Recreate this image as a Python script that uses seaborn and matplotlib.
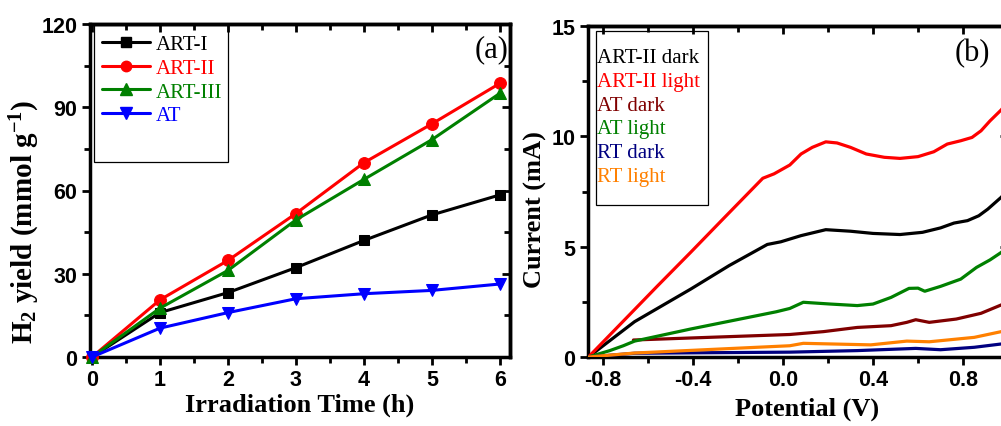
import numpy as np
import pandas as pd
import matplotlib
matplotlib.use("Agg")
import matplotlib.pyplot as plt
import seaborn as sns
from matplotlib.ticker import MultipleLocator
from matplotlib.patches import Rectangle
from matplotlib.lines import Line2D

# ---- panel (a): H2 yield vs irradiation time ----
time_h = [0, 1, 2, 3, 4, 5, 6]
art1 = [0, 16.0, 23.2, 32.2, 42.0, 51.2, 58.4]
art2 = [0, 20.6, 34.8, 51.7, 70.0, 84.0, 98.6]
art3 = [0, 17.6, 31.2, 49.4, 64.0, 78.3, 95.0]
at_yield = [0, 10.4, 16.0, 21.0, 22.8, 24.0, 26.3]

# ---- panel (b): current vs potential ----
art2_light_v = [-0.865, -0.66, -0.56, -0.41, -0.27, -0.09, -0.04, 0.03, 0.08, 0.13, 0.19, 0.24,
                0.30, 0.37, 0.45, 0.52, 0.60, 0.67, 0.73, 0.79, 0.84, 0.88, 0.92, 0.97, 1.0]
art2_light_i = [0, 2.15, 3.2, 4.75, 6.22, 8.1, 8.3, 8.7, 9.2, 9.5, 9.75, 9.7,
                9.5, 9.2, 9.05, 9.0, 9.08, 9.3, 9.65, 9.8, 9.95, 10.25, 10.7, 11.2, 11.6]
art2_dark_v = [-0.865, -0.66, -0.41, -0.24, -0.07, -0.01, 0.08, 0.19, 0.30, 0.40, 0.52, 0.62,
               0.70, 0.76, 0.82, 0.87, 0.91, 0.97, 1.0]
art2_dark_i = [0, 1.6, 3.08, 4.14, 5.1, 5.22, 5.5, 5.77, 5.7, 5.6, 5.55, 5.65,
               5.85, 6.07, 6.18, 6.4, 6.7, 7.24, 7.6]
at_light_v = [-0.865, -0.77, -0.71, -0.66, -0.41, -0.03, 0.03, 0.09, 0.21, 0.33, 0.40, 0.48,
              0.56, 0.60, 0.63, 0.70, 0.79, 0.86, 0.92, 0.97, 1.0]
at_light_i = [0, 0.29, 0.51, 0.72, 1.27, 2.05, 2.2, 2.48, 2.4, 2.33, 2.4, 2.7,
              3.11, 3.12, 2.98, 3.2, 3.53, 4.06, 4.4, 4.74, 5.0]
at_dark_v = [-0.665, 0.03, 0.18, 0.33, 0.48, 0.55, 0.59, 0.65, 0.77, 0.88, 0.97, 1.0]
at_dark_i = [0.77, 1.02, 1.15, 1.34, 1.42, 1.57, 1.69, 1.57, 1.72, 1.98, 2.36, 2.5]
rt_dark_v = [-0.865, -0.66, 0.03, 0.33, 0.59, 0.70, 0.85, 0.97, 1.0]
rt_dark_i = [0, 0.17, 0.22, 0.29, 0.39, 0.33, 0.44, 0.59, 0.63]
rt_light_v = [-0.865, -0.66, 0.03, 0.09, 0.39, 0.55, 0.65, 0.85, 0.97, 1.0]
rt_light_i = [0, 0.18, 0.51, 0.62, 0.55, 0.72, 0.69, 0.89, 1.15, 1.22]

sns.set_style("ticks")
plt.rcParams["font.family"] = ["Liberation Serif", "DejaVu Serif"]
plt.rcParams["mathtext.fontset"] = "custom"
plt.rcParams["mathtext.rm"] = "Liberation Serif"
plt.rcParams["mathtext.bf"] = "Liberation Serif:bold"
plt.rcParams["mathtext.it"] = "Liberation Serif:italic"
plt.rcParams["text.color"] = "black"
plt.rcParams["axes.labelcolor"] = "black"
plt.rcParams["xtick.color"] = "black"
plt.rcParams["ytick.color"] = "black"
plt.rcParams["axes.edgecolor"] = "black"

fig = plt.figure(figsize=(10.01, 4.27), dpi=100)
ax1 = fig.add_axes([90 / 1001, 69 / 427, 420 / 1001, 333 / 427])
ax2 = fig.add_axes([588 / 1001, 69 / 427, 420 / 1001, 331 / 427])

tick_font = dict(family="Liberation Sans", weight="bold", size=15.5)
label_font = dict(family="Liberation Serif", weight="bold", size=19)


def style_axes(ax, xmaj, xmin, ymaj, ymin):
    for s in ax.spines.values():
        s.set_linewidth(2.5)
        s.set_color("black")
    ax.xaxis.set_major_locator(MultipleLocator(xmaj))
    ax.xaxis.set_minor_locator(MultipleLocator(xmin))
    ax.yaxis.set_major_locator(MultipleLocator(ymaj))
    ax.yaxis.set_minor_locator(MultipleLocator(ymin))
    ax.tick_params(which="major", direction="out", length=6, width=2, pad=3, colors="black")
    ax.tick_params(which="minor", direction="out", length=4, width=2, colors="black")
    for lab in ax.get_xticklabels() + ax.get_yticklabels():
        lab.set_fontproperties(tick_font)
    top = ax.secondary_xaxis("top")
    right = ax.secondary_yaxis("right")
    for sec, axis in ((top, top.xaxis), (right, right.yaxis)):
        axis.set_major_locator(MultipleLocator(xmaj if sec is top else ymaj))
        axis.set_minor_locator(MultipleLocator(xmin if sec is top else ymin))
        sec.tick_params(which="major", direction="in", length=6, width=2,
                        labeltop=False, labelright=False, colors="black")
        sec.tick_params(which="minor", direction="in", length=4, width=2, colors="black")
        for s in sec.spines.values():
            s.set_linewidth(2.5)
            s.set_color("black")


# ---- panel (a) ----
series_a = [
    ("ART-I", art1, "black", "s", 7.5),
    ("ART-II", art2, "#ff0000", "o", 8.5),
    ("ART-III", art3, "#008000", "^", 9),
    ("AT", at_yield, "#0000ff", "v", 9),
]
handles_a = []
for name, vals, col, mk, ms in series_a:
    sns.lineplot(x=time_h, y=vals, ax=ax1, color=col, marker=mk, markersize=ms,
                 markeredgecolor=col, linewidth=2.2, clip_on=False, zorder=3)
    handles_a.append(Line2D([], [], color=col, marker=mk, markersize=ms - 1,
                            markeredgecolor=col, linewidth=2.2, label=name))

ax1.set_xlim(-0.03, 6.15)
ax1.set_ylim(0, 120)
style_axes(ax1, 1, 0.5, 30, 15)
ax1.set_xlabel("Irradiation Time (h)", **label_font)
ax1.xaxis.set_label_coords(0.5, -0.108)
ax1.set_ylabel(r"$\mathbf{H_2}$ yield (mmol g$^{\mathbf{-1}}$)",
               family="Liberation Serif", weight="bold", size=21)
ax1.yaxis.set_label_coords(-0.115, 0.41)
ax1.add_patch(Rectangle((0.0095, 0.586), 0.32, 0.41, transform=ax1.transAxes,
                        fill=False, edgecolor="black", linewidth=0.9, zorder=4))
leg1 = ax1.legend(handles=handles_a, loc="upper left", bbox_to_anchor=(0.029, 0.968),
                  frameon=False, borderpad=0, borderaxespad=0, handlelength=2.3,
                  handletextpad=0.25, labelspacing=0.2, labelcolor="linecolor",
                  prop=dict(family="Liberation Serif", size=15))
ax1.text(0.955, 0.925, "(a)", transform=ax1.transAxes, ha="center", va="center",
         fontsize=22, family="Liberation Serif")

# ---- panel (b) ----
series_b = [
    ("ART-II dark", art2_dark_v, art2_dark_i, "black"),
    ("ART-II light", art2_light_v, art2_light_i, "#ff0000"),
    ("AT dark", at_dark_v, at_dark_i, "#800000"),
    ("AT light", at_light_v, at_light_i, "#008000"),
    ("RT dark", rt_dark_v, rt_dark_i, "#000080"),
    ("RT light", rt_light_v, rt_light_i, "#ff8000"),
]
draw_order = [4, 5, 2, 3, 0, 1]
for k in draw_order:
    name, xv, yv, col = series_b[k]
    sns.lineplot(x=xv, y=yv, ax=ax2, color=col, linewidth=2.3, zorder=3 + k * 0.1)
handles_b = [Line2D([], [], color=c, linewidth=0, label=n) for n, _, _, c in series_b]

ax2.set_xlim(-0.867, 1.0)
ax2.set_ylim(0, 15)
style_axes(ax2, 0.4, 0.2, 5, 2.5)
ax2.set_xticks([-0.8, -0.4, 0.0, 0.4, 0.8])
ax2.set_xticklabels(["-0.8", "-0.4", "0.0", "0.4", "0.8"])
ax2.set_yticks([0, 5, 10, 15])
ax2.set_yticklabels(["0", "5", "10", "15"])
for lab in ax2.get_xticklabels() + ax2.get_yticklabels():
    lab.set_fontproperties(tick_font)
ax2.set_xlabel("Potential (V)", **label_font)
ax2.xaxis.set_label_coords(0.521, -0.12)
ax2.set_ylabel("Current (mA)", **label_font)
ax2.yaxis.set_label_coords(-0.098, 0.447)
ax2.add_patch(Rectangle((0.019, 0.459), 0.267, 0.526, transform=ax2.transAxes,
                        fill=False, edgecolor="black", linewidth=0.9, zorder=4))
leg2 = ax2.legend(handles=handles_b, loc="upper left", bbox_to_anchor=(0.022, 0.935),
                  frameon=False, borderpad=0, borderaxespad=0, handlelength=0,
                  handletextpad=0, labelspacing=0.2, labelcolor="linecolor",
                  prop=dict(family="Liberation Serif", size=15))
ax2.text(0.915, 0.92, "(b)", transform=ax2.transAxes, ha="center", va="center",
         fontsize=22, family="Liberation Serif")

fig.savefig("out.png", dpi=100)
